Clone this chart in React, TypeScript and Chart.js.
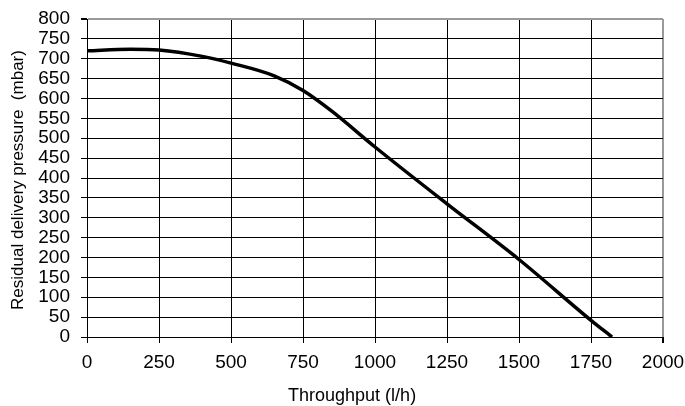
import React, { useEffect, useRef } from "react";
import { Chart, registerables } from "chart.js";

Chart.register(...registerables);

const throughput = [0, 150, 250, 400, 500, 650, 750, 850, 1000, 1250, 1500, 1750, 1823];
const pressure = [720, 724, 722, 706, 689, 657, 620, 568, 478, 335, 195, 42, 0];

const xTitle = "Throughput (l/h)";
const yTitle = "Residual delivery pressure  (mbar)";
const FONT = 'Arial, "Liberation Sans", sans-serif';

const titlesPlugin = {
  id: "titles",
  afterDraw(chart: any) {
    const { ctx, chartArea } = chart;
    ctx.save();
    ctx.fillStyle = "#000";
    ctx.textAlign = "center";
    ctx.textBaseline = "alphabetic";
    ctx.font = `18px ${FONT}`;
    ctx.fillText(xTitle, chart.width * 0.514, chart.height - 5);
    ctx.font = `17px ${FONT}`;
    ctx.translate(23, (chartArea.top + chartArea.bottom) / 2 + 2);
    ctx.rotate(-Math.PI / 2);
    ctx.fillText(yTitle, 0, 0);
    ctx.restore();
  },
};

export default function App() {
  const ref = useRef<HTMLCanvasElement>(null);
  useEffect(() => {
    document.body.style.margin = "0";
    const chart = new Chart(ref.current!, {
      type: "scatter",
      data: {
        datasets: [
          {
            data: throughput.map((x, i) => ({ x, y: pressure[i] })),
            showLine: true,
            borderColor: "#000",
            borderWidth: 3.5,
            pointRadius: 0,
            cubicInterpolationMode: "monotone",
          } as any,
        ],
      },
      options: {
        animation: false,
        responsive: false,
        maintainAspectRatio: false,
        layout: { padding: { top: 19, right: 22, left: 0, bottom: 0 } },
        plugins: { legend: { display: false }, tooltip: { enabled: false } },
        scales: {
          x: {
            type: "linear",
            min: 0,
            max: 2000,
            afterFit: (s: any) => {
              s.height = 69;
              s.paddingLeft = 0;
              s.paddingRight = 0;
            },
            ticks: {
              stepSize: 250,
              autoSkip: false,
              color: "#000",
              font: { size: 19, family: FONT },
              padding: 8,
              maxRotation: 0,
              callback: (v: any) => String(v),
            },
            grid: {
              color: (c: any) => (c.tick && c.tick.value === 2000 ? "#9a9a9a" : "#000"),
              lineWidth: (c: any) => (c.tick && c.tick.value === 2000 ? 2 : 1),
              tickLength: 6,
              tickColor: "#000",
            },
            border: { color: "#000", width: 1 },
          },
          y: {
            type: "linear",
            min: 0,
            max: 800,
            afterFit: (s: any) => {
              s.width = 87;
              s.paddingTop = 0;
              s.paddingBottom = 0;
            },
            ticks: {
              stepSize: 50,
              autoSkip: false,
              color: "#000",
              font: { size: 19, family: FONT },
              padding: 11,
              callback: (v: any) => String(v),
            },
            grid: {
              color: (c: any) => (c.tick && c.tick.value === 800 ? "#9a9a9a" : "#000"),
              lineWidth: (c: any) => (c.tick && c.tick.value === 800 ? 2 : 1),
              tickLength: 6,
              tickColor: "#000",
            },
            border: { color: "#000", width: 1 },
          },
        },
      },
      plugins: [titlesPlugin],
    });
    return () => chart.destroy();
  }, []);
  return (
    <div style={{ width: 685, height: 406 }}>
      <canvas ref={ref} width={685} height={406} style={{ display: "block" }} />
    </div>
  );
}
